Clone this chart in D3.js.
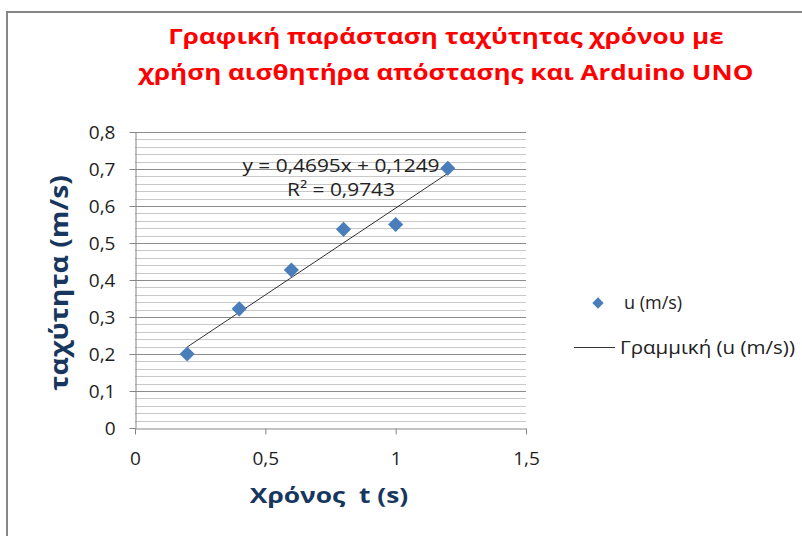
<!DOCTYPE html>
<html>
<head>
<meta charset="utf-8">
<script src="https://cdn.jsdelivr.net/npm/d3@7"></script>
<style>
  body { margin: 0; background: #fff; }
  text { font-family: "Open Sans", "Noto Sans", sans-serif; }
</style>
</head>
<body>
<div id="container"></div>
<script>
/* DATA */
const times = [0.2, 0.4, 0.6, 0.8, 1.0, 1.2];
const speeds = [0.2, 0.322, 0.427, 0.537, 0.55, 0.702];
const xTicks = [0, 0.5, 1, 1.5];
const yTicks = [0, 0.1, 0.2, 0.3, 0.4, 0.5, 0.6, 0.7, 0.8];
const trendSlope = 0.4695, trendIntercept = 0.1249;
const eqLabel = "y = 0,4695x + 0,1249";
const r2Label = "R² = 0,9743";
const titleLines = ["Γραφική παράσταση ταχύτητας χρόνου με", "χρήση αισθητήρα απόστασης και Arduino UNO"];
const seriesName = "u (m/s)";
const trendName = "Γραμμική (u (m/s))";

/* CONSTANTS */
const width = 802, height = 536;
const plot = {left: 135, right: 526, top: 132, bottom: 428};
const blue = "#4a7ebb", navy = "#17375e";

const locale = d3.formatLocale({decimal: ",", thousands: ".", grouping: [3], currency: ["€", ""]});
const fmt = locale.format("~g");

const svg = d3.select("#container").append("svg")
  .attr("width", width)
  .attr("height", height);

// text that is a bit wider than the font draws it
function label(x, y, str, size, sx, opts = {}) {
  return svg.append("text")
    .attr("transform", `translate(${x}, ${y}) ${opts.rotate ? "rotate(-90) " : ""}scale(${sx}, 1)`)
    .attr("text-anchor", opts.anchor || "start")
    .style("font-size", size + "px")
    .style("font-weight", opts.bold ? "bold" : "normal")
    .attr("fill", opts.color || "#222")
    .attr("xml:space", "preserve")
    .text(str);
}

// chart frame
svg.append("rect")
  .attr("x", 7).attr("y", 12)
  .attr("width", width + 20).attr("height", height + 20)
  .attr("fill", "#fff")
  .attr("stroke", "#878787")
  .attr("stroke-width", 2);

const xScale = d3.scaleLinear().domain([0, 1.5]).range([plot.left, plot.right]);
const yScale = d3.scaleLinear().domain([0, 0.8]).range([plot.bottom, plot.top]);

// minor gridlines
const minor = d3.range(0, 0.8001, 0.02).filter(v => Math.round(v * 50) % 5 !== 0);
svg.append("g").selectAll("line")
  .data(minor)
  .join("line")
  .attr("x1", plot.left).attr("x2", plot.right)
  .attr("y1", d => Math.round(yScale(d)) + 0.5)
  .attr("y2", d => Math.round(yScale(d)) + 0.5)
  .attr("stroke", "#c8c8c8");

// major gridlines
svg.append("g").selectAll("line")
  .data(yTicks.slice(1))
  .join("line")
  .attr("x1", plot.left).attr("x2", plot.right)
  .attr("y1", d => Math.round(yScale(d)) + 0.5)
  .attr("y2", d => Math.round(yScale(d)) + 0.5)
  .attr("stroke", "#8c8c8c");

// axes
const xAxis = d3.axisBottom(xScale).tickValues(xTicks).tickFormat(fmt).tickSizeInner(6).tickSizeOuter(0).tickPadding(17);
const yAxis = d3.axisLeft(yScale).tickValues(yTicks).tickFormat(fmt).tickSizeInner(6).tickSizeOuter(0).tickPadding(14);

const xAxisGroup = svg.append("g")
  .attr("transform", `translate(0, ${plot.bottom + 0.5})`)
  .call(xAxis);
const yAxisGroup = svg.append("g")
  .attr("transform", `translate(${plot.left + 0.5}, 0)`)
  .call(yAxis);

[xAxisGroup, yAxisGroup].forEach(g => {
  g.select(".domain").attr("stroke", "#868686");
  g.selectAll(".tick line").attr("stroke", "#868686");
  g.selectAll(".tick text")
    .attr("fill", "#1e1e1e")
    .style("font-family", "'Open Sans', sans-serif")
    .style("font-size", "19px");
});
yAxisGroup.selectAll(".tick text").attr("dy", "0.35em");

// trend line
svg.append("line")
  .attr("x1", xScale(times[0]))
  .attr("y1", yScale(trendIntercept + trendSlope * times[0]))
  .attr("x2", xScale(times[times.length - 1]))
  .attr("y2", yScale(trendIntercept + trendSlope * times[times.length - 1]))
  .attr("stroke", "#333")
  .attr("stroke-width", 1);

// points
const diamond = d3.symbol().type(d3.symbolSquare).size(115);
svg.append("g").selectAll("path")
  .data(times.map((t, i) => ({t, u: speeds[i]})))
  .join("path")
  .attr("d", diamond)
  .attr("transform", d => `translate(${xScale(d.t)}, ${yScale(d.u)}) rotate(45)`)
  .attr("fill", blue);

// equation
label(341, 172, eqLabel, 18, 1.16, {anchor: "middle"});
label(341, 196, r2Label, 18, 1.16, {anchor: "middle"});

// title
titleLines.forEach((t, i) => label(446, 44 + i * 36, t, 21, 1.24, {anchor: "middle", bold: true, color: "#ff0000"}));

// axis titles
label(329, 503, "Χρόνος  t (s)", 22, 1.2, {anchor: "middle", bold: true, color: navy});
label(68, 283, "ταχύτητα (m/s)", 25, 1.13, {anchor: "middle", bold: true, color: navy, rotate: true});

// legend
svg.append("path")
  .attr("d", diamond)
  .attr("transform", "translate(598, 303) rotate(45) scale(0.75)")
  .attr("fill", blue);
label(624, 309, seriesName, 18, 1, {});
svg.append("line")
  .attr("x1", 574).attr("x2", 615)
  .attr("y1", 347.5).attr("y2", 347.5)
  .attr("stroke", "#333");
label(620, 354, trendName, 18, 1.14, {});
</script>
</body>
</html>
